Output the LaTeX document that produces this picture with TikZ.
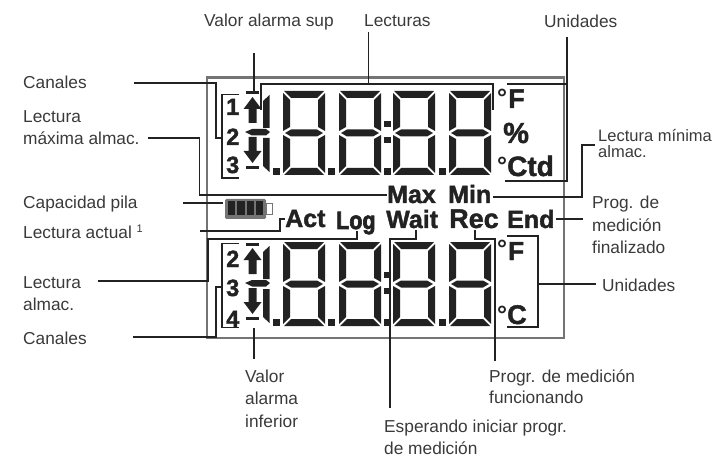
\documentclass[tikz,border=0pt]{standalone}
\usepackage{graphicx}
\usepackage{fontspec}
\setmainfont{Liberation Sans}
\newfontfamily\hvb[FakeBold=1.6]{Liberation Sans Bold}
\newfontfamily\hvbx[FakeBold=3]{Liberation Sans Bold}
\tikzset{
  lbl/.style={anchor=base west,inner sep=0pt,text=txtc,font=\fontsize{17.3}{20}\selectfont},
  lcd/.style={anchor=base west,inner sep=0pt,text=lcdc,font=\fontsize{25}{28}\hvb\selectfont},
  num/.style={anchor=base west,inner sep=0pt,text=lcdc,font=\fontsize{23.5}{26}\hvb\selectfont},
  deg/.style={anchor=base west,inner sep=0pt,text=lcdc,font=\fontsize{25}{28}\selectfont\bfseries},
  lead/.style={draw=lcdc,line width=1.9pt,line cap=butt,line join=miter},
  seg/.style={fill=lcdc,draw=none},
  frm/.style={draw=frmc,line width=2.2pt}
}
\definecolor{txtc}{HTML}{3A3A3A}
\definecolor{lcdc}{HTML}{222222}
\definecolor{frmc}{HTML}{747474}
\newcommand{\digitat}[2]{%
\begin{scope}[shift={(#1,#2)}]
 \fill[seg] (1,0)--(41,0)--(34,7)--(8,7)--cycle;
 \fill[seg] (0,2)--(7,9)--(7,36)--(0,40)--cycle;
 \fill[seg] (42,2)--(35,9)--(35,36)--(42,40)--cycle;
 \fill[seg] (2,42)--(8,38.5)--(34,38.5)--(40,42)--(34,45.5)--(8,45.5)--cycle;
 \fill[seg] (0,44)--(7,48)--(7,75)--(0,82)--cycle;
 \fill[seg] (42,44)--(35,48)--(35,75)--(42,82)--cycle;
 \fill[seg] (1,84)--(41,84)--(34,77)--(8,77)--cycle;
\end{scope}}
\newcommand{\lcdrow}[1]{%
\begin{scope}[shift={(0,#1)}]
 % bars and alarm arrows
 \fill[seg] (246,0.5)--(259,0.5)--(259,3.5)--(246,3.5)--cycle;
 \fill[seg] (252.5,6)--(261.5,18)--(256.5,18)--(256.5,32)--(248.5,32)--(248.5,18)--(243.5,18)--cycle;
 \fill[seg] (246,78)--(259,78)--(259,75)--(246,75)--cycle;
 \fill[seg] (252.5,72)--(261.5,60)--(256.5,60)--(256.5,46)--(248.5,46)--(248.5,60)--(243.5,60)--cycle;
 \fill[seg] (245,41)--(252,38)--(266,38)--(270,41)--(266,44.5)--(252,44.5)--cycle;
 % half digit
 \fill[seg] (269.5,4)--(269.5,37)--(263,37)--(263,10)--cycle;
 \fill[seg] (269.5,81)--(269.5,47)--(263,47)--(263,75)--cycle;
 % dots
 \fill[seg] (273,77)--(279.5,77)--(279.5,84)--(273,84)--cycle;
 \fill[seg] (328,77)--(334.5,77)--(334.5,84)--(328,84)--cycle;
 \fill[seg] (384,77)--(390.5,77)--(390.5,84)--(384,84)--cycle;
 \fill[seg] (439,77)--(445.5,77)--(445.5,84)--(439,84)--cycle;
 \fill[seg] (384,30)--(390.5,30)--(390.5,36)--(384,36)--cycle;
 \fill[seg] (384,46)--(390.5,46)--(390.5,52)--(384,52)--cycle;
\end{scope}
\digitat{283}{#1}\digitat{339}{#1}\digitat{393}{#1}\digitat{449}{#1}}
\begin{document}
\begin{tikzpicture}[x=1pt,y=-1pt]
\useasboundingbox (0,0) rectangle (712,457);
% frame
\node[frm,draw,minimum width=357pt,minimum height=260.5pt,inner sep=0pt,anchor=north west] (frame) at (206,76.5) {};
% LCD rows
\lcdrow{91}
\lcdrow{242}
% battery
\node[draw=frmc,fill=frmc,line width=1pt,rounded corners=1pt,minimum width=40pt,minimum height=19pt,inner sep=0pt,anchor=north west] (batt) at (225,199) {};
\node[draw=frmc,fill=white,line width=1pt,minimum width=6pt,minimum height=11pt,inner sep=0pt,anchor=west] (bterm) at (batt.east) {};
\foreach \cx in {227.5,237,246.5,255.5}{\fill[lcdc] (\cx,201.5) rectangle ++(7.5,14);}
% numbers
\node[num] (c1) at (226,115) {1};
\node[num] (c2) at (226,145) {2};
\node[num] (c3) at (226,173) {3};
\node[num] (d2) at (226,267) {2};
\node[num] (d3) at (226,296) {3};
\node[num] (d4) at (226,327) {4};
% units
\node[deg] (deg1) at (497,107) {°};
\node[anchor=base west,inner sep=0pt,text=lcdc,font=\fontsize{27}{30}\hvb\selectfont] (uF1) at (508,108) {F};
\node[anchor=base west,inner sep=0pt,text=lcdc,font=\fontsize{29}{30}\hvb\selectfont] (uP) at (503,143) {\%};
\node[deg] (deg2) at (497,175) {°};
\node[anchor=base west,inner sep=0pt,text=lcdc,font=\fontsize{28}{30}\hvb\selectfont] (uCtd) at (507,176) {Ctd};
\node[deg] (deg3) at (497,258) {°};
\node[anchor=base west,inner sep=0pt,text=lcdc,font=\fontsize{26}{30}\hvb\selectfont] (uF2) at (508,260) {F};
\node[deg] (deg4) at (497,323) {°};
\node[anchor=base west,inner sep=0pt,text=lcdc,font=\fontsize{27}{30}\hvb\selectfont] (uC) at (507,324) {C};
% status words
\node[lcd] (Max) at (387,203) {Max};
\node[lcd] (Min) at (448,203) {Min};
\node[lcd] (Act) at (285,227) {Act};
\node[lcd,font=\fontsize{25}{28}\hvbx\selectfont] (Log) at (336,229) {\scalebox{0.86}[1]{Log}};
\node[lcd] (Wait) at (386,228) {Wait};
\node[lcd,font=\fontsize{27}{28}\hvb\selectfont] (Rec) at (449,228) {Rec};
\node[lcd] (End) at (507,228) {End};
% labels
\node[lbl] (tSup) at (204,27) {Valor alarma sup};
\node[lbl] (tLec) at (364,27) {Lecturas};
\node[lbl] (tUni) at (544,28) {Unidades};
\node[lbl] (tCan) at (23,89) {Canales};
\node[lbl] (tLm1) at (23,123) {Lectura};
\node[lbl] (tLm2) at (23,145) {máxima almac.};
\node[lbl] (tCap) at (23,208) {Capacidad pila};
\node[lbl] (tAct) at (23,238) {Lectura actual \raisebox{5.5pt}{\fontsize{11}{12}\selectfont 1}};
\node[lbl] (tLa1) at (23,288) {Lectura};
\node[lbl] (tLa2) at (23,310) {almac.};
\node[lbl] (tCa2) at (23,344) {Canales};
\node[lbl,font=\fontsize{16.5}{20}\selectfont] (tMi1) at (598,142) {Lectura mínima};
\node[lbl,font=\fontsize{16.5}{20}\selectfont] (tMi2) at (598,158) {almac.};
\node[lbl] (tPr1) at (592,208) {Prog. de};
\node[lbl] (tPr2) at (592,231) {medición};
\node[lbl] (tPr3) at (592,253) {finalizado};
\node[lbl] (tUn2) at (602,291) {Unidades};
\node[lbl] (tIn1) at (245,382) {Valor};
\node[lbl] (tIn2) at (245,404) {alarma};
\node[lbl] (tIn3) at (245,427) {inferior};
\node[lbl] (tFu1) at (489,382) {Progr. de medición};
\node[lbl] (tFu2) at (489,403) {funcionando};
\node[lbl] (tEs1) at (384,432) {Esperando iniciar progr.};
\node[lbl] (tEs2) at (384,454) {de medición};
% connector ends
\coordinate (a1) at (254,53); \coordinate (a2) at (254,92);
\draw[lead] (a1) -- (a2);
\coordinate (b1) at (368.5,32); \coordinate (b2) at (368.5,84);
\coordinate (b3) at (261,110); \coordinate (b4) at (493,110);
\draw[lead] (b1) -- (b2);
\draw[lead] (b3) -- (b3 |- b2) -- (b4 |- b2) -- (b4);
\coordinate (u1) at (567,37); \coordinate (u2) at (507,84); \coordinate (u3) at (505,181);
\draw[lead] (u1) -- (u1 |- u3) -- (u3);
\draw[lead] (u2) -- (u2 -| u1);
\coordinate (k1) at (134,83); \coordinate (k2) at (216,138); \coordinate (k3) at (222,138);
\coordinate (k4) at (239,94.5); \coordinate (k5) at (239,178);
\draw[lead] (k1) -- (k1 -| k2) -- (k2) -- (k3);
\draw[lead] (k4) -- (k4 -| k3) -- (k5 -| k3) -- (k5);
\coordinate (m1) at (148,138); \coordinate (m2) at (199.5,195);
\draw[lead] (m1) -- (m1 -| m2) -- (m2) -- (Max.west |- m2);
\coordinate (n1) at (582,145); \coordinate (n2) at (595,145); \coordinate (n3) at (493,197);
\draw[lead] (n3) -- (n3 -| n1) -- (n1) -- (n2);
\coordinate (e1) at (556,219); \coordinate (e2) at (583,219);
\draw[lead] (e1) -- (e2);
\coordinate (p1) at (183,203); \coordinate (p2) at (223,203);
\draw[lead] (p1) -- (p2);
\coordinate (q1) at (200,231); \coordinate (q2) at (280,231); \coordinate (q3) at (285,219);
\draw[lead] (q1) -- (q2) -- (q2 |- q3) -- (q3);
\coordinate (g1) at (357,231); \coordinate (g2) at (357,239); \coordinate (g3) at (208,281); \coordinate (g4) at (98,281);
\draw[lead] (g1) -- (g2) -- (g2 -| g3) -- (g3) -- (g4);
\coordinate (h1) at (133,337); \coordinate (h2) at (216,287); \coordinate (h3) at (222,287);
\coordinate (h4) at (239,243.5); \coordinate (h5) at (239,327.5);
\draw[lead] (h1) -- (h1 -| h2) -- (h2) -- (h3);
\draw[lead] (h4) -- (h4 -| h3) -- (h5 -| h3) -- (h5);
\coordinate (i1) at (254,328); \coordinate (i2) at (254,359);
\draw[lead] (i1) -- (i2);
\coordinate (w1) at (416,230); \coordinate (w2) at (416,239); \coordinate (w3) at (390,408);
\draw[lead] (w1) -- (w2) -- (w2 -| w3) -- (w3);
\coordinate (r1) at (475,230); \coordinate (r2) at (475,239); \coordinate (r3) at (495,361);
\draw[lead] (r1) -- (r2) -- (r2 -| r3) -- (r3);
\coordinate (s1) at (507,236); \coordinate (s2) at (538,327); \coordinate (s3) at (538,284); \coordinate (s4) at (596,284);
\draw[lead] (s1) -- (s1 -| s2) -- (s2) -- (s2 -| s1);
\draw[lead] (s3) -- (s4);
\end{tikzpicture}
\end{document}
